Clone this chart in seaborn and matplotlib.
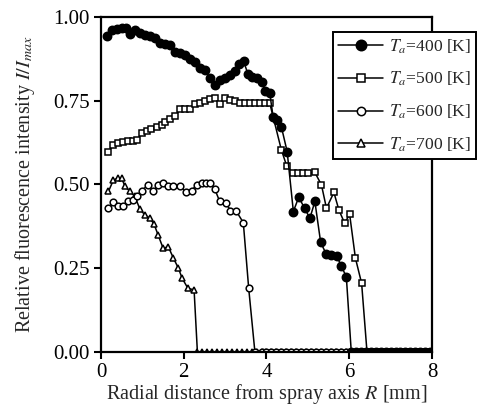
import numpy as np
import pandas as pd
import matplotlib
matplotlib.use("Agg")
import matplotlib.pyplot as plt
import seaborn as sns

# ---- data ----
R_400 = [0.14, 0.26, 0.38, 0.50, 0.60, 0.70, 0.82, 0.94, 1.06, 1.18, 1.30, 1.43, 1.55, 1.67, 1.79,
         1.91, 2.03, 2.15, 2.27, 2.39, 2.51, 2.63, 2.75, 2.87, 2.99, 3.11, 3.23, 3.33, 3.45, 3.55,
         3.66, 3.77, 3.88, 3.97, 4.08, 4.16, 4.25, 4.36, 4.50, 4.65, 4.78, 4.92, 5.05, 5.17, 5.31,
         5.44, 5.57, 5.70, 5.81, 5.93, 6.05]
I_400 = [0.943, 0.960, 0.963, 0.966, 0.968, 0.948, 0.960, 0.951, 0.946, 0.943, 0.936, 0.923, 0.919,
         0.916, 0.896, 0.891, 0.887, 0.875, 0.865, 0.847, 0.842, 0.817, 0.797, 0.812, 0.817, 0.827,
         0.838, 0.860, 0.867, 0.830, 0.822, 0.817, 0.805, 0.780, 0.772, 0.702, 0.693, 0.672, 0.598,
         0.419, 0.462, 0.429, 0.399, 0.449, 0.327, 0.293, 0.290, 0.287, 0.255, 0.225, 0.0]

R_500 = [0.18, 0.30, 0.42, 0.54, 0.66, 0.78, 0.88, 0.98, 1.10, 1.22, 1.35, 1.47, 1.55, 1.67, 1.79,
         1.91, 2.03, 2.15, 2.27, 2.39, 2.51, 2.63, 2.75, 2.87, 3.00, 3.12, 3.24, 3.36, 3.48, 3.60,
         3.72, 3.84, 3.96, 4.08, 4.36, 4.49, 4.65, 4.77, 4.89, 5.01, 5.17, 5.33, 5.45, 5.63, 5.75,
         5.89, 6.01, 6.15, 6.30, 6.43]
I_500 = [0.598, 0.618, 0.623, 0.628, 0.631, 0.631, 0.633, 0.653, 0.658, 0.665, 0.671, 0.678, 0.687,
         0.694, 0.704, 0.724, 0.724, 0.724, 0.740, 0.744, 0.750, 0.754, 0.757, 0.740, 0.757, 0.752,
         0.750, 0.742, 0.742, 0.742, 0.742, 0.742, 0.742, 0.742, 0.603, 0.555, 0.533, 0.533, 0.533,
         0.533, 0.536, 0.498, 0.429, 0.476, 0.424, 0.384, 0.411, 0.280, 0.205, 0.0]

R_600 = [0.18, 0.30, 0.42, 0.54, 0.66, 0.78, 0.88, 0.98, 1.14, 1.26, 1.38, 1.50, 1.63, 1.75, 1.91,
         2.05, 2.19, 2.31, 2.43, 2.55, 2.63, 2.75, 2.87, 3.02, 3.13, 3.26, 3.44, 3.57, 3.72]
I_600 = [0.429, 0.447, 0.436, 0.436, 0.449, 0.452, 0.466, 0.481, 0.499, 0.479, 0.499, 0.504, 0.494,
         0.494, 0.496, 0.476, 0.481, 0.499, 0.504, 0.505, 0.504, 0.486, 0.449, 0.444, 0.422, 0.422,
         0.386, 0.190, 0.0]

R_700 = [0.18, 0.30, 0.40, 0.50, 0.58, 0.70, 0.82, 0.94, 1.06, 1.18, 1.28, 1.38, 1.50, 1.63, 1.75,
         1.87, 1.96, 2.10, 2.25, 2.33]
I_700 = [0.479, 0.513, 0.518, 0.518, 0.494, 0.479, 0.464, 0.426, 0.409, 0.399, 0.382, 0.349, 0.310,
         0.313, 0.280, 0.250, 0.220, 0.190, 0.185, 0.0]

# measurement positions where all signals had vanished (value 0)
ZERO_R = [2.44, 2.56, 2.68, 2.80, 2.92, 3.04, 3.16, 3.28, 3.40, 3.52, 3.64, 3.76, 3.88, 4.00, 4.12,
          4.24, 4.36, 4.48, 4.60, 4.72, 4.84, 4.96, 5.08, 5.20, 5.32, 5.44, 5.56, 5.68, 5.80, 5.92,
          6.04, 6.16, 6.28, 6.40, 6.52, 6.64, 6.76, 6.88, 7.00, 7.12, 7.24, 7.36, 7.48, 7.60, 7.72,
          7.84, 7.96]

LABELS = [r"$T_a$=400 [K]", r"$T_a$=500 [K]", r"$T_a$=600 [K]", r"$T_a$=700 [K]"]
X_TICKS = [0, 2, 4, 6, 8]
Y_TICKS = [0.00, 0.25, 0.50, 0.75, 1.00]


def with_tail(r, i):
    tail = [z for z in ZERO_R if z > r[-1] + 0.06]
    return pd.DataFrame({"R": list(r) + tail, "I": list(i) + [0.0 for _ in tail]})


sns.set_style("ticks")
plt.rcParams["font.family"] = ["Liberation Serif", "DejaVu Serif"]
plt.rcParams["mathtext.fontset"] = "stix"

fig = plt.figure(figsize=(4.81, 4.13), dpi=100)
ax = fig.add_axes([0.21, 0.148, 0.688, 0.811])

styles = {
    0: dict(marker="o", markersize=6.0, markerfacecolor="black"),
    1: dict(marker="s", markersize=4.6, markerfacecolor="white"),
    2: dict(marker="o", markersize=4.8, markerfacecolor="white"),
    3: dict(marker="^", markersize=5.0, markerfacecolor="white"),
}
series = [(R_400, I_400), (R_500, I_500), (R_600, I_600), (R_700, I_700)]

handles = {}
for k in [3, 2, 1, 0]:
    df = with_tail(*series[k])
    sns.lineplot(data=df, x="R", y="I", ax=ax, color="black", linewidth=1.1,
                 markeredgecolor="black", markeredgewidth=1.1, estimator=None, sort=False,
                 label=LABELS[k], **styles[k])
    handles[k] = ax.lines[-1]

ax.set_xlim(0, 8)
ax.set_ylim(0, 1)
ax.set_xticks(X_TICKS)
ax.set_xticklabels([str(t) for t in X_TICKS])
ax.set_yticks(Y_TICKS)
ax.set_yticklabels([f"{t:.2f}" for t in Y_TICKS])
ax.tick_params(direction="out", length=5, width=1.5, labelsize=15, pad=3, colors="black")
for s in ax.spines.values():
    s.set_visible(True)
    s.set_linewidth(1.6)
    s.set_color("black")

ax.set_xlabel(r"Radial distance from spray axis $R$ [mm]", fontsize=14.5, labelpad=0)
ax.set_ylabel(r"Relative fluorescence intensity $I/I_{max}$", fontsize=14.5, labelpad=12)

leg = ax.legend([handles[k] for k in range(4)], LABELS, loc="upper left",
                bbox_to_anchor=(0.70, 0.955), borderaxespad=0, fontsize=12.6,
                frameon=True, fancybox=False, framealpha=1, edgecolor="black",
                handlelength=2.6, handletextpad=0.3, labelspacing=0.82, borderpad=0.3,
                markerscale=1.25)
leg.get_frame().set_linewidth(1.4)
leg.set_clip_on(False)

fig.savefig("out.png", dpi=100)
